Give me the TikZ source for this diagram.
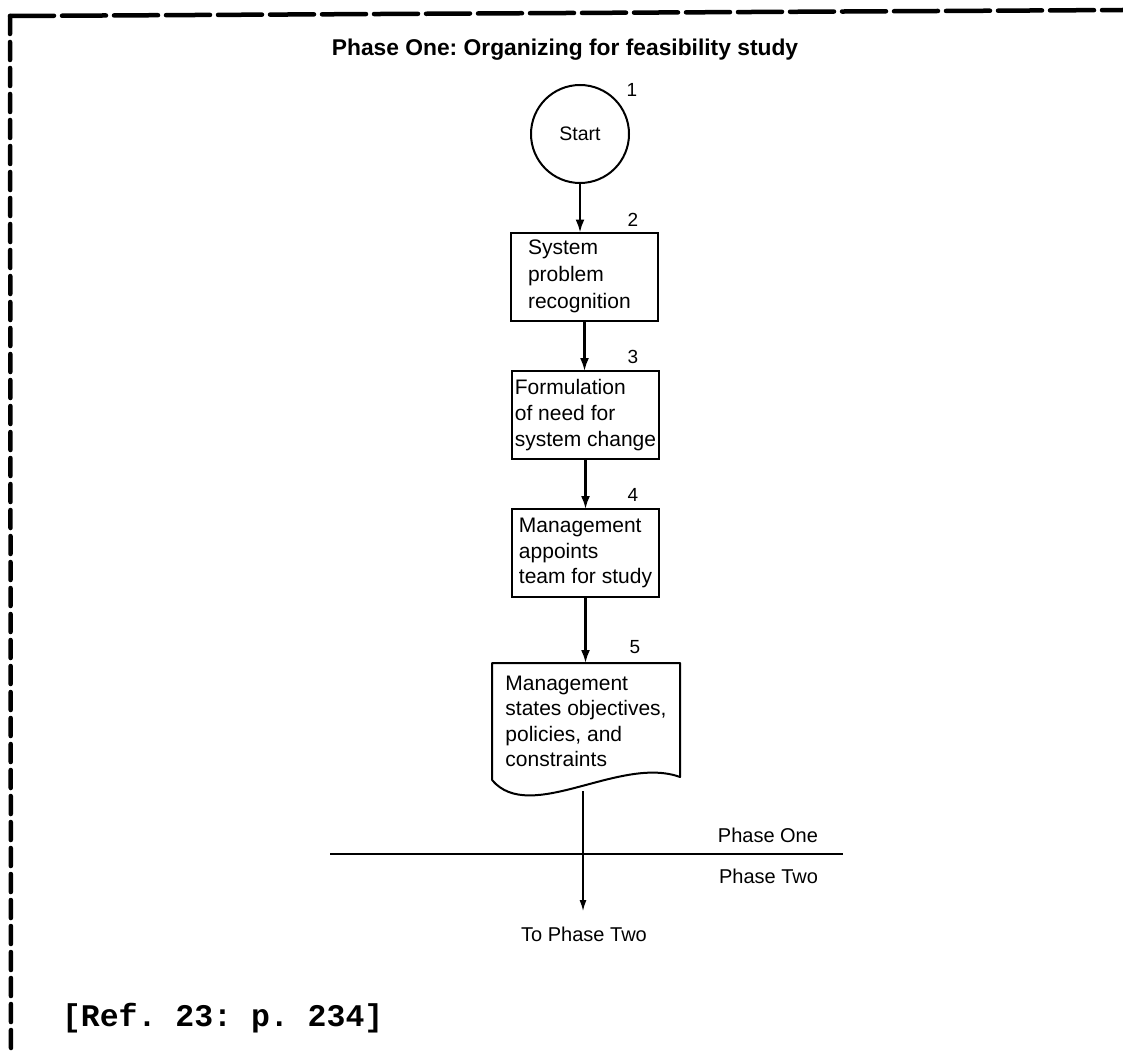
\documentclass[tikz,border=0pt]{standalone}
\usepackage{fontspec}
\setmainfont{Liberation Sans}
\setmonofont{Liberation Mono}
\usetikzlibrary{arrows.meta}
\frenchspacing
\begin{document}
\begin{tikzpicture}[x=1pt,y=-1pt,
  every node/.style={inner sep=0pt, outer sep=0pt},
  stepbox/.style={draw, line width=2pt, align=left, minimum width=147pt, minimum height=88pt,
                  font=\fontsize{21}{26}\selectfont},
  num/.style={font=\fontsize{19}{22}\selectfont},
  arr/.style={line width=2.2pt, -{Latex[length=13pt,width=9pt]}},
  thinarr/.style={line width=1.4pt, -{Latex[length=11pt,width=7pt]}},
  phaselabel/.style={font=\fontsize{20}{24}\selectfont},
  frameline/.style={line width=4.5pt, line cap=round}
]
\useasboundingbox (0,0) rectangle (1123,1051);

% dashed frame, top and left sides
\draw[frameline, dash pattern=on 44pt off 8pt] (10,16) -- (1123,10);
\draw[frameline, dash pattern=on 18pt off 8pt] (10,16) -- (11,1051);

% heading
\node[font=\bfseries\fontsize{22.8}{26}\selectfont] (title) at (565,50)
  {Phase One: Organizing for feasibility study};

% flow steps
\node[circle, draw, line width=2pt, minimum size=98pt, font=\fontsize{19.5}{22}\selectfont]
  (start) at (580,134) {Start};
\node[num] (n1) at (632,90) {1};

\node[stepbox, text width=113pt, font=\fontsize{21}{27}\selectfont] (box2) at (584.5,276.5)
  {System\\problem\\recognition};
\node[num] (n2) at (633,220) {2};

\node[stepbox] (box3) at (585.5,415) {Formulation\\of need for\\system change};
\node[num] (n3) at (633,357) {3};

\node[stepbox, font=\fontsize{21}{25.5}\selectfont] (box4) at (585.5,553) {Management\\appoints\\team for study};
\node[num] (n4) at (633,495) {4};

% document-shaped step
\node[align=left, minimum width=188pt, minimum height=117pt, font=\fontsize{21}{25.3}\selectfont]
  (box5) at (586,721.5) {Management\\states objectives,\\policies, and\\constraints};
\draw[line width=2pt, line join=round]
  (box5.south west) -- (box5.north west) -- (box5.north east) -- ([yshift=3pt]box5.south east)
  .. controls (620,755) and (530,825) .. (box5.south west);
\node[num] (n5) at (635,647) {5};

% connectors
\draw[arr] (start.south) -- (start.south |- box2.north);
\draw[arr] (box2.south) -- (box2.south |- box3.north);
\draw[arr] (box3.south) -- (box3.south |- box4.north);
\draw[arr] (box4.south) -- (box4.south |- box5.north);

% phase boundary
\coordinate (pl) at (330,854);
\coordinate (pr) at (843,854);
\draw[line width=2.4pt] (pl) -- (pr);
\node[phaselabel, anchor=east] (p1) at (818,835) {Phase One};
\node[phaselabel, anchor=east] (p2) at (818,876) {Phase Two};

\coordinate (docout) at (583,791);
\coordinate (tipend) at (583,911);
\draw[thinarr] (docout) -- (tipend);
\node[phaselabel] (tonext) at (584,934) {To Phase Two};

% source reference
\node[font=\ttfamily\bfseries\fontsize{31.5}{34}\selectfont, anchor=west] (ref) at (62,1018)
  {[Ref. 23: p. 234]};
\end{tikzpicture}
\end{document}
